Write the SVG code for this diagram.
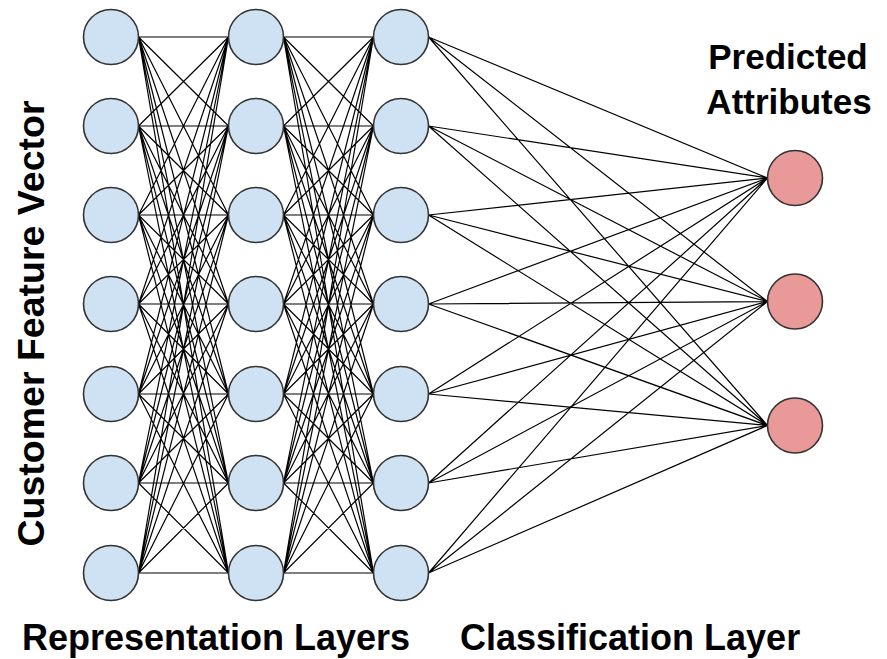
<svg xmlns="http://www.w3.org/2000/svg" xmlns:xlink="http://www.w3.org/1999/xlink" width="887" height="659" viewBox="0 0 887 659">
  <style>
    .edge { fill: none; stroke: #000; stroke-width: 1.2; }
    .hidden { fill: #cfe2f3; stroke: #333; stroke-width: 1.6; }
    .out { fill: #ea9999; stroke: #333; stroke-width: 1.6; }
    .label { font-family: "Liberation Sans", Arial, sans-serif; font-weight: bold; fill: #000; }
  </style>
  <defs>
    <!-- full 7x7 mesh between two adjacent columns, origin at the top row -->
    <path id="mesh" class="edge" d="
      M0 0L90 0M0 0L90 89M0 0L90 178M0 0L90 267M0 0L90 357M0 0L90 446M0 0L90 536
      M0 89L90 0M0 89L90 89M0 89L90 178M0 89L90 267M0 89L90 357M0 89L90 446M0 89L90 536
      M0 178L90 0M0 178L90 89M0 178L90 178M0 178L90 267M0 178L90 357M0 178L90 446M0 178L90 536
      M0 267L90 0M0 267L90 89M0 267L90 178M0 267L90 267M0 267L90 357M0 267L90 446M0 267L90 536
      M0 357L90 0M0 357L90 89M0 357L90 178M0 357L90 267M0 357L90 357M0 357L90 446M0 357L90 536
      M0 446L90 0M0 446L90 89M0 446L90 178M0 446L90 267M0 446L90 357M0 446L90 446M0 446L90 536
      M0 536L90 0M0 536L90 89M0 536L90 178M0 536L90 267M0 536L90 357M0 536L90 446M0 536L90 536"/>
  </defs>

  <g id="connectors">
    <use xlink:href="#mesh" x="138.5" y="37"/>
    <use xlink:href="#mesh" x="283.5" y="37"/>
    <path class="edge" d="
      M428.5 37L767.5 178M428.5 37L767.5 301.5M428.5 37L767.5 425.5
      M428.5 126L767.5 178M428.5 126L767.5 301.5M428.5 126L767.5 425.5
      M428.5 215L767.5 178M428.5 215L767.5 301.5M428.5 215L767.5 425.5
      M428.5 304L767.5 178M428.5 304L767.5 301.5M428.5 304L767.5 425.5
      M428.5 394L767.5 178M428.5 394L767.5 301.5M428.5 394L767.5 425.5
      M428.5 483L767.5 178M428.5 483L767.5 301.5M428.5 483L767.5 425.5
      M428.5 573L767.5 178M428.5 573L767.5 301.5M428.5 573L767.5 425.5"/>
  </g>

  <!-- input column -->
  <g id="in1"><circle class="hidden" cx="111" cy="37" r="27.5"/></g>
  <g id="in2"><circle class="hidden" cx="111" cy="126" r="27.5"/></g>
  <g id="in3"><circle class="hidden" cx="111" cy="215" r="27.5"/></g>
  <g id="in4"><circle class="hidden" cx="111" cy="304" r="27.5"/></g>
  <g id="in5"><circle class="hidden" cx="111" cy="394" r="27.5"/></g>
  <g id="in6"><circle class="hidden" cx="111" cy="483" r="27.5"/></g>
  <g id="in7"><circle class="hidden" cx="111" cy="573" r="27.5"/></g>

  <!-- second column -->
  <g id="h1"><circle class="hidden" cx="256" cy="37" r="27.5"/></g>
  <g id="h2"><circle class="hidden" cx="256" cy="126" r="27.5"/></g>
  <g id="h3"><circle class="hidden" cx="256" cy="215" r="27.5"/></g>
  <g id="h4"><circle class="hidden" cx="256" cy="304" r="27.5"/></g>
  <g id="h5"><circle class="hidden" cx="256" cy="394" r="27.5"/></g>
  <g id="h6"><circle class="hidden" cx="256" cy="483" r="27.5"/></g>
  <g id="h7"><circle class="hidden" cx="256" cy="573" r="27.5"/></g>

  <!-- third column -->
  <g id="r1"><circle class="hidden" cx="401" cy="37" r="27.5"/></g>
  <g id="r2"><circle class="hidden" cx="401" cy="126" r="27.5"/></g>
  <g id="r3"><circle class="hidden" cx="401" cy="215" r="27.5"/></g>
  <g id="r4"><circle class="hidden" cx="401" cy="304" r="27.5"/></g>
  <g id="r5"><circle class="hidden" cx="401" cy="394" r="27.5"/></g>
  <g id="r6"><circle class="hidden" cx="401" cy="483" r="27.5"/></g>
  <g id="r7"><circle class="hidden" cx="401" cy="573" r="27.5"/></g>

  <!-- output attributes -->
  <g id="o1"><circle class="out" cx="795" cy="178" r="27.5"/></g>
  <g id="o2"><circle class="out" cx="795" cy="301.5" r="27.5"/></g>
  <g id="o3"><circle class="out" cx="795" cy="425.5" r="27.5"/></g>

  <!-- labels -->
  <text class="label" font-size="37.5" transform="translate(44,323.5) rotate(-90)" text-anchor="middle">Customer Feature Vector</text>
  <text class="label" font-size="35" x="788" y="69" text-anchor="middle">Predicted</text>
  <text class="label" font-size="35" x="789" y="114" text-anchor="middle">Attributes</text>
  <text class="label" font-size="36" x="22" y="650">Representation Layers</text>
  <text class="label" font-size="36" x="460" y="650">Classification Layer</text>
</svg>
